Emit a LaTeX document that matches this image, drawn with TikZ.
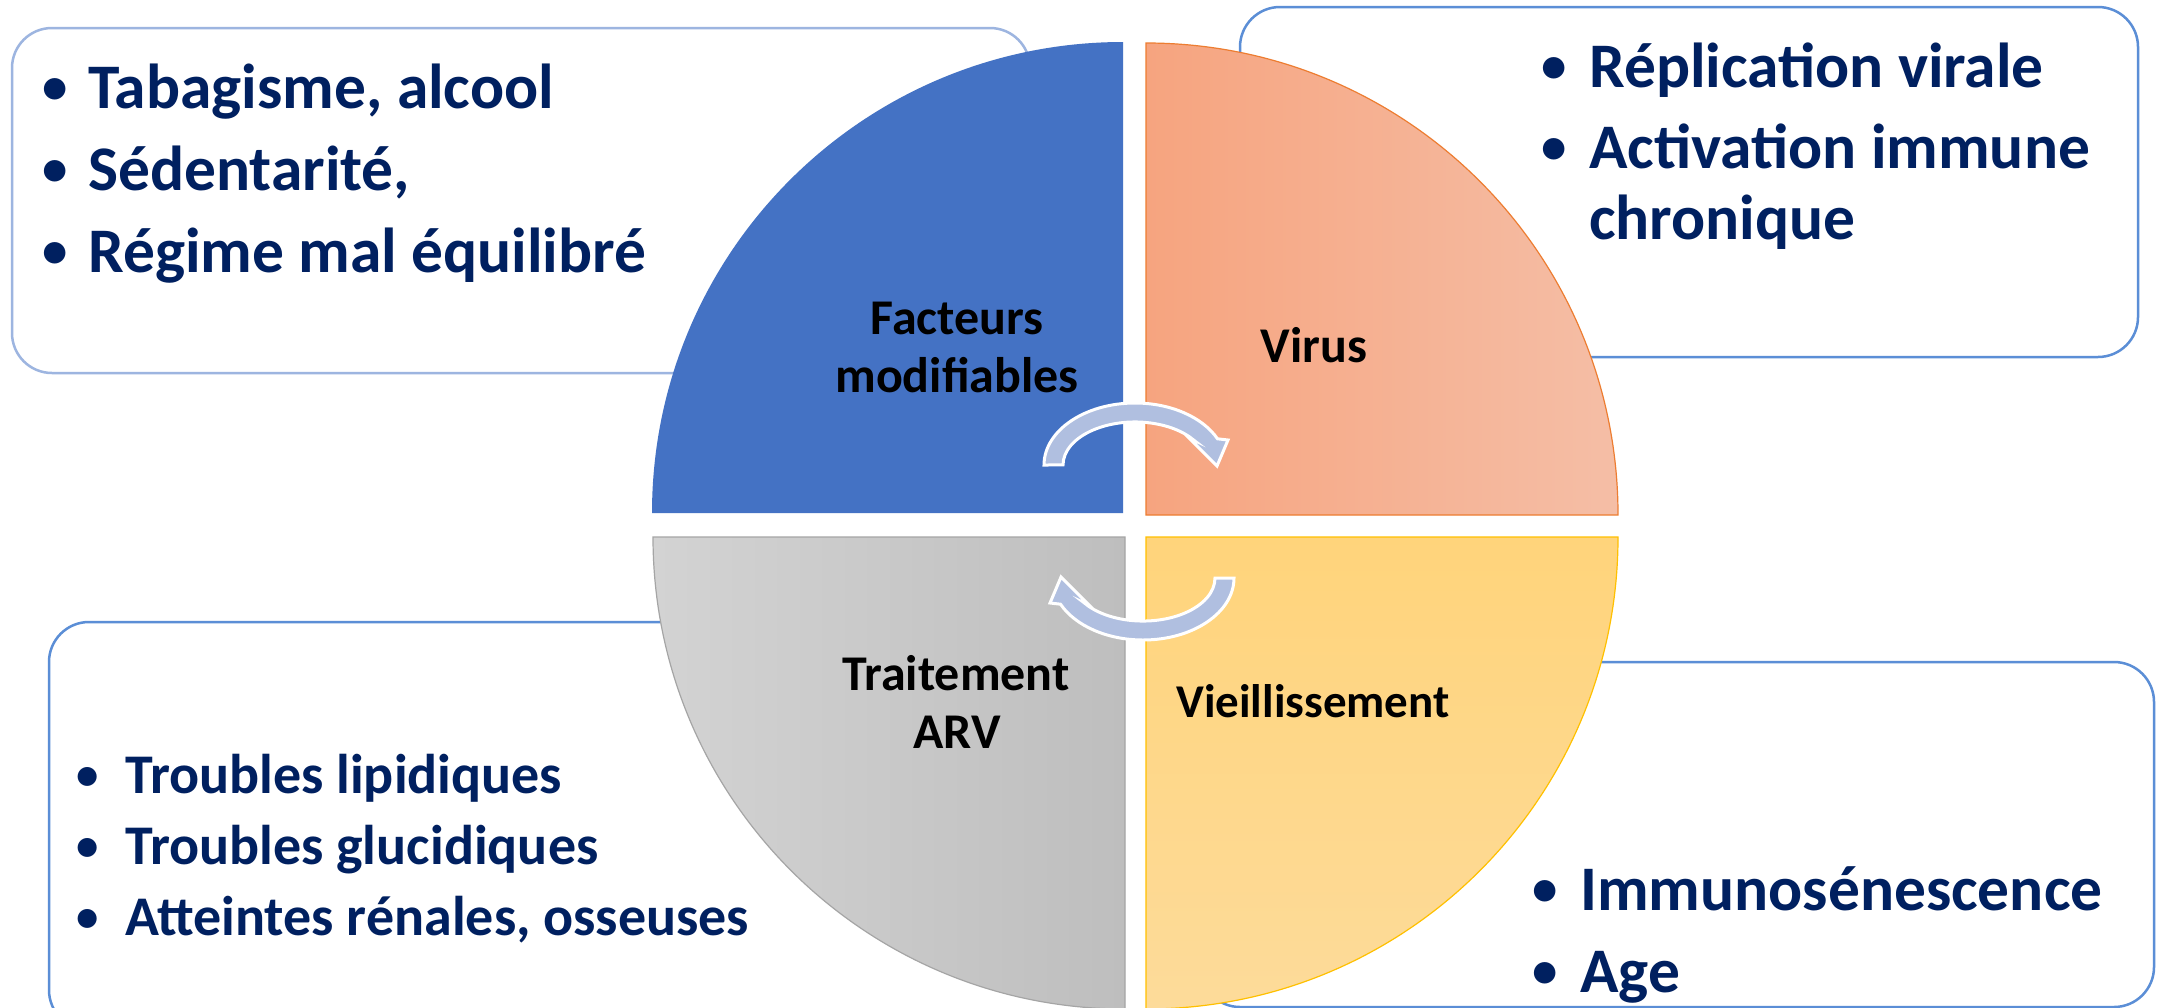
\documentclass[tikz,border=0pt]{standalone}
\usepackage{fontspec}
\usepackage{graphicx}
\setmainfont{Carlito}
\definecolor{navy}{HTML}{002060}
\definecolor{boxblue}{HTML}{5B8ED6}
\definecolor{boxlight}{HTML}{9DB5E0}
\definecolor{qblue}{HTML}{4472C4}
\definecolor{orL}{HTML}{F6A47F}
\definecolor{orR}{HTML}{F5BEA6}
\definecolor{orB}{HTML}{ED7D31}
\definecolor{grL}{HTML}{D3D3D3}
\definecolor{grR}{HTML}{BEBEBE}
\definecolor{grB}{HTML}{A5A5A5}
\definecolor{yeT}{HTML}{FFD47B}
\definecolor{yeB}{HTML}{FDDB9A}
\definecolor{yeBd}{HTML}{FFC000}
\definecolor{arrfill}{HTML}{B0BFE0}
\newcommand{\mybul}{\makebox[0pt]{\raisebox{0.065em}{\scalebox{0.8}{•}}}}
\begin{document}
\begin{tikzpicture}[x=1pt,y=-1pt,
  box/.style={draw=boxblue, line width=2.5pt, fill=white, rounded corners=40pt},
  item/.style={anchor=base west, inner sep=0pt, text=navy},
  big/.style={font=\fontsize{63.5}{63.5}\selectfont\bfseries},
  mid/.style={font=\fontsize{56}{56}\selectfont\bfseries},
  lab/.style={anchor=base, inner sep=0pt, text=black, font=\fontsize{50}{50}\selectfont\bfseries},
  arr/.style={fill=arrfill, draw=white, line width=3pt, line join=miter}]
\useasboundingbox (0,0) rectangle (2157,1007);
\fill[white] (0,0) rectangle (2157,1007);

% text boxes
\draw[box, draw=boxlight] (12,28) rectangle (1030,373);
\draw[box] (1240,7) rectangle (2138,357);
\draw[box] (49,622) rectangle (1110,1030);
\draw[box] (1200,662) rectangle (2154,1007);

% quarters
\fill[qblue] (1123,513) -- (652,513) arc[start angle=180, end angle=270, radius=471] -- cycle;
\shade[left color=orL, right color=orR] (1146,515) -- (1146,43) arc[start angle=270, end angle=360, radius=472] -- cycle;
\draw[orB, line width=1.2pt] (1146,515) -- (1146,43) arc[start angle=270, end angle=360, radius=472] -- cycle;
\shade[left color=grL, right color=grR] (1125,537) -- (653,537) arc[start angle=180, end angle=90, radius=472] -- cycle;
\draw[grB, line width=1.2pt] (1125,537) -- (653,537) arc[start angle=180, end angle=90, radius=472] -- cycle;
\shade[top color=yeT, bottom color=yeB] (1146,537) -- (1618,537) arc[start angle=0, end angle=90, radius=472] -- cycle;
\draw[yeBd, line width=1.2pt] (1146,537) -- (1618,537) arc[start angle=0, end angle=90, radius=472] -- cycle;

% circular arrows
\begin{scope}[shift={(1135,465)}]
\draw[arr] (-91,0) arc[start angle=180, end angle=335, x radius=91, y radius=62]
  -- (93,-25) -- (82,1) -- (54,-27) -- (59,-24.7)
  arc[start angle=325, end angle=180, x radius=72, y radius=43] -- cycle;
\end{scope}
\begin{scope}[shift={(1143,578)}, rotate=180]
\draw[arr] (-91,0) arc[start angle=180, end angle=335, x radius=91, y radius=62]
  -- (93,-25) -- (82,1) -- (54,-27) -- (59,-24.7)
  arc[start angle=325, end angle=180, x radius=72, y radius=43] -- cycle;
\end{scope}

% quarter labels
\node[lab] (fac1) at (957,334) {Facteurs};
\node[lab] (fac2) at (957,392) {modifiables};
\node[lab] (vir) at (1314,362) {Virus};
\node[lab] (trt1) at (956,690) {Traitement};
\node[lab] (trt2) at (957,748) {ARV};
\node[lab, font=\fontsize{47}{47}\selectfont\bfseries] (vie) at (1313,717) {Vieillissement};

% top-left items
\node[item, big] (tl1) at (55,108) {\mybul\hspace*{33pt}Tabagisme, alcool};
\node[item, big] (tl2) at (55,190) {\mybul\hspace*{33pt}Sédentarité,};
\node[item, big] (tl3) at (55,272) {\mybul\hspace*{33pt}Régime mal équilibré};

% top-right items
\node[item, big] (tr1) at (1554,87) {\mybul\hspace*{35pt}Réplication virale};
\node[item, big] (tr2) at (1554,168) {\mybul\hspace*{35pt}Activation immune};
\node[item, big] (tr3) at (1589,239) {chronique};

% bottom-left items
\node[item, mid] (bl1) at (87,793) {\mybul\hspace*{38pt}Troubles lipidiques};
\node[item, mid] (bl2) at (87,864) {\mybul\hspace*{38pt}Troubles glucidiques};
\node[item, mid] (bl3) at (87,935) {\mybul\hspace*{38pt}Atteintes rénales, osseuses};

% bottom-right items
\node[item, big] (br1) at (1545,910) {\mybul\hspace*{35pt}Immunosénescence};
\node[item, big] (br2) at (1545,992) {\mybul\hspace*{35pt}Age};
\end{tikzpicture}
\end{document}
